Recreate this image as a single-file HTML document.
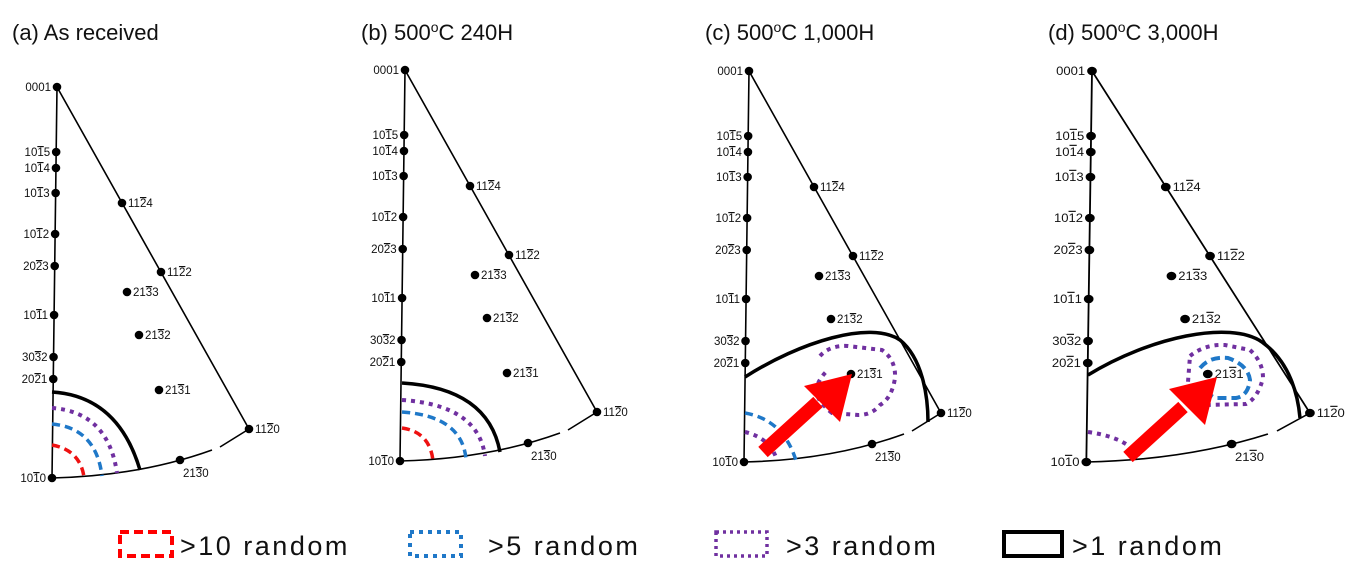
<!DOCTYPE html>
<html><head><meta charset="utf-8"><style>
html,body{margin:0;padding:0;background:#fff;width:1361px;height:577px;overflow:hidden}
svg{display:block}
.t{font-family:"Liberation Sans",sans-serif;font-size:22px;fill:#111}
.lg{font-family:"Liberation Sans",sans-serif;font-size:27px;fill:#111;letter-spacing:2.5px}
.lb{font-family:"Liberation Sans",sans-serif;font-size:11.5px;fill:#111}
.ov{text-decoration:overline}
</style></head><body>
<svg id="fig" width="1361" height="577" viewBox="0 0 1361 577">
<g>
<text class="t" x="12" y="40">(a) As received</text>
<text class="t" x="361" y="40">(b) 500<tspan dy="-8" font-size="14">o</tspan><tspan dy="8">C 240H</tspan></text>
<text class="t" x="705" y="40">(c) 500<tspan dy="-8" font-size="14">o</tspan><tspan dy="8">C 1,000H</tspan></text>
<text class="t" x="1048" y="40">(d) 500<tspan dy="-8" font-size="14">o</tspan><tspan dy="8">C 3,000H</tspan></text>
</g>
<g id="pa" transform="translate(0,0)"></g>
<g id="pb" transform="translate(348,-17)"></g>
<g id="pc" transform="translate(692,-16)"></g>
<g id="pd" transform="translate(1092,71) scale(1.135,1) translate(-57,-87)"></g>

<g fill="none" stroke-linecap="butt">
<path d="M52,392 Q118,396 140,470" stroke="#000" stroke-width="3.5"/>
<path d="M52,408 Q108,412 117,473" stroke="#7030a0" stroke-width="4" stroke-dasharray="4,5"/>
<path d="M52,424 Q96,428 102,476" stroke="#1f78c8" stroke-width="3.5" stroke-dasharray="8,5"/>
<path d="M52,445 Q80,450 84,477" stroke="#ee1111" stroke-width="3.5" stroke-dasharray="8,5"/>
<path d="M402,383 Q488,388 500,452" stroke="#000" stroke-width="3.5"/>
<path d="M402,400 Q478,405 485,456" stroke="#7030a0" stroke-width="4" stroke-dasharray="4,5"/>
<path d="M402,412 Q462,416 466,459" stroke="#1f78c8" stroke-width="3.5" stroke-dasharray="8,5"/>
<path d="M402,428 Q430,432 433,461" stroke="#ee1111" stroke-width="3.5" stroke-dasharray="8,5"/>
<path d="M745,377 C800,342 870,320 900,340 C922,358 928,395 928,422" stroke="#000" stroke-width="3.5"/>
<path d="M820,356 Q830,345 848,346 L882,350 Q896,360 895,378 Q892,398 880,405 Q872,415 858,415 L832,413 Q816,400 816,390 Q818,380 826,372" stroke="#7030a0" stroke-width="4" stroke-dasharray="4,5"/>
<path d="M745,413 Q785,420 797,464" stroke="#1f78c8" stroke-width="3.5" stroke-dasharray="8,5"/>
<path d="M745,432 Q770,438 777,460" stroke="#7030a0" stroke-width="4" stroke-dasharray="4,5"/>
<path d="M1088,375 C1150,337 1230,320 1262,342 C1290,362 1298,395 1300,418" stroke="#000" stroke-width="3.5"/>
<path d="M1190,356 Q1205,344 1225,345 L1250,350 Q1263,362 1263,378 Q1258,398 1246,404 L1205,405 Q1188,395 1188,382 Z" stroke="#7030a0" stroke-width="4" stroke-dasharray="4,5"/>
<path d="M1200,368 Q1210,356 1228,358 Q1248,365 1250,380 Q1248,396 1236,398 L1215,398 Q1205,393 1203,383" stroke="#1f78c8" stroke-width="4" stroke-dasharray="9,5"/>
<path d="M1088,432 Q1130,438 1140,459" stroke="#7030a0" stroke-width="4" stroke-dasharray="4,5"/>
</g>
<g fill="#ff0000">
<g>
<line x1="763" y1="452" x2="818" y2="402" stroke="#ff0000" stroke-width="14"/>
<polygon points="852,374 840,422 804,386"/>
</g>
<g>
<line x1="1128" y1="457" x2="1183" y2="407" stroke="#ff0000" stroke-width="14"/>
<polygon points="1217,377 1205,425 1169,389"/>
</g>
</g>

<g>
<g>
<rect x="120" y="532" width="52" height="24" fill="none" stroke="#ff0000" stroke-width="4" stroke-dasharray="9,5"/>
<text class="lg" x="180" y="555">&gt;10 random</text></g>
<g>
<rect x="410" y="532" width="51" height="24" fill="none" stroke="#1f78c8" stroke-width="4" stroke-dasharray="4,5"/>
<text class="lg" x="488" y="555">&gt;5 random</text></g>
<g>
<rect x="716" y="532" width="51" height="24" fill="none" stroke="#7030a0" stroke-width="3.5" stroke-dasharray="3,4"/>
<text class="lg" x="786" y="555">&gt;3 random</text></g>
<g>
<rect x="1004" y="532" width="58" height="24" fill="none" stroke="#000" stroke-width="4"/>
<text class="lg" x="1072" y="555">&gt;1 random</text></g>
</g>
</svg>
<script>
// template triangle (panel-a coords); bar drawn over 3rd digit for 4-index names
const poleNames=["0001","1015","1014","1013","1012","2023","1011","3032","2021","1010"];
const poleY=[87,152,168,193,234,266,315,357,379,478];
const innerNames=["1124","1122","2133","2132","2131","1120","2130"];
const innerX=[122,161,127,139,159,249,180];
const innerY=[203,272,292,335,390,429,460];
const NS="http://www.w3.org/2000/svg";
function mk(t,a,p){const e=document.createElementNS(NS,t);for(const k in a)e.setAttribute(k,a[k]);p.appendChild(e);return e;}
function axX(y){return 57-(y-87)*5/391;}
function label(t,n){
  if(n==="0001"){t.textContent=n;return;}
  t.appendChild(document.createTextNode(n.slice(0,2)));
  const s=document.createElementNS(NS,'tspan');s.setAttribute('class','ov');s.textContent=n[2];t.appendChild(s);
  t.appendChild(document.createTextNode(n.slice(3)));
}
function build(g){
  const ln=mk('path',{d:`M57,87 L52,478 M57,87 L249,429 M52,478 Q140,476 212,450 M220,447 L249,429`,stroke:'#000','stroke-width':1.6,fill:'none'},g);
  
  
  poleNames.forEach((n,i)=>{
    const x=axX(poleY[i]);
    const d=mk('circle',{cx:x,cy:poleY[i],r:4.3,fill:'#000'},g);
    
    
    const t=mk('text',{class:'lb',x:x-6,y:poleY[i]+4,'text-anchor':'end'},g);
    label(t,n);
    
    
  });
  innerNames.forEach((n,i)=>{
    const d=mk('circle',{cx:innerX[i],cy:innerY[i],r:4.3,fill:'#000'},g);
    
    
    const below=(i===6);
    const t=mk('text',{class:'lb',x:below?innerX[i]+3:innerX[i]+6,y:below?innerY[i]+17:innerY[i]+4},g);
    label(t,n);
    
    
  });
}
['pa','pb','pc','pd'].forEach(id=>build(document.getElementById(id)));
</script>
</body></html>
